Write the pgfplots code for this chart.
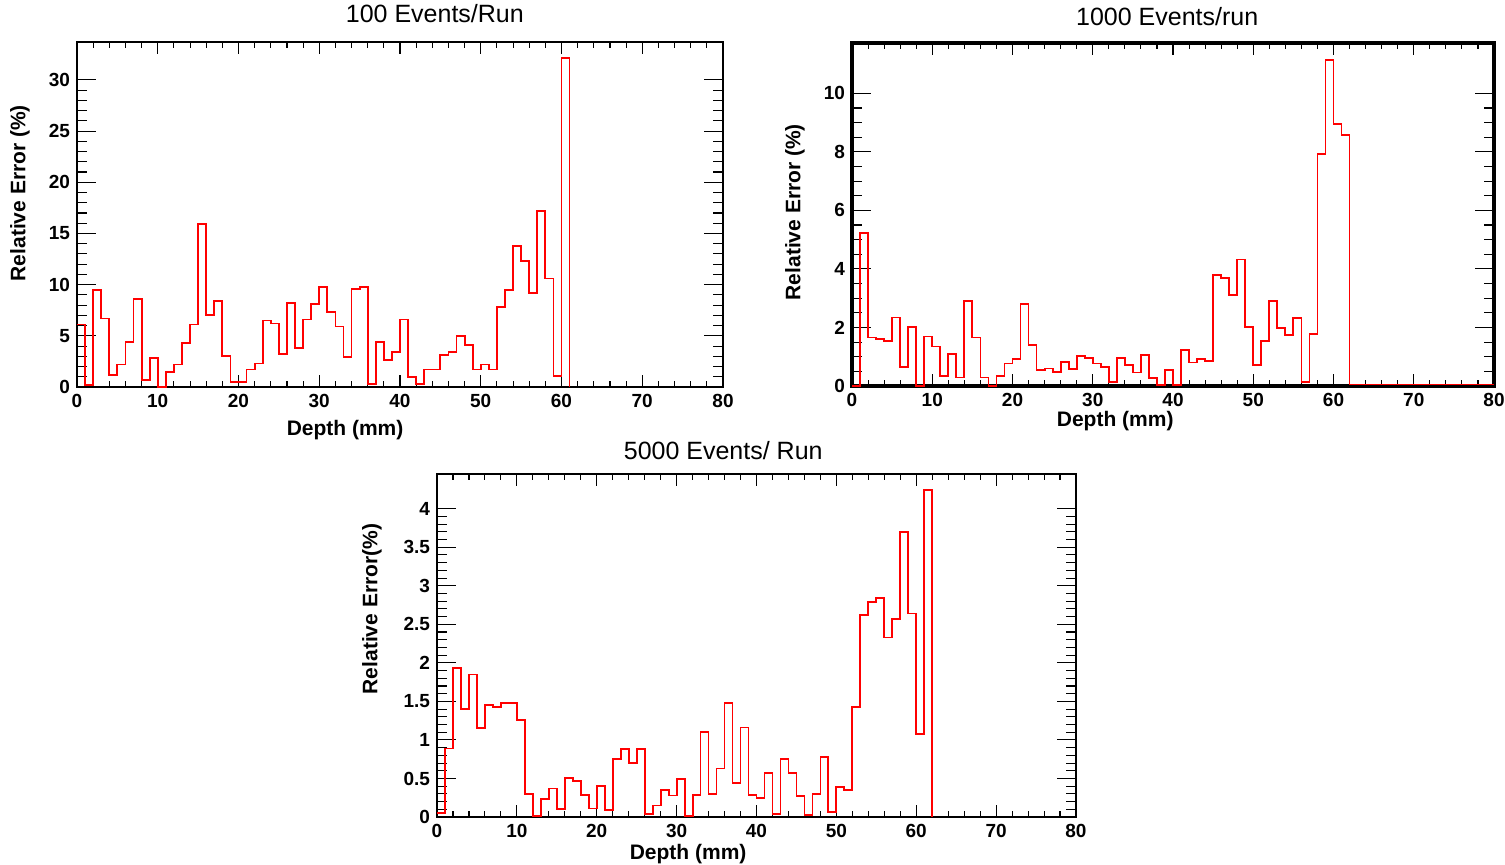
\documentclass[border=0pt]{standalone}
\usepackage{pgfplots}
\pgfplotsset{compat=1.18}
\usepackage{pgfplotstable}
\usepackage{fontspec}
\setmainfont{Liberation Sans}

\pgfplotstableread{
x y
0 6.1
1 0.2
2 9.5
3 6.7
4 1.15
5 2.2
6 4.4
7 8.6
8 0.65
9 2.8
10 0
11 1.5
12 2.2
13 4.3
14 6.1
15 15.9
16 7.0
17 8.4
18 3.0
19 0.5
20 0.5
21 1.7
22 2.3
23 6.5
24 6.2
25 3.2
26 8.2
27 3.8
28 6.6
29 8.1
30 9.8
31 7.3
32 5.9
33 2.95
34 9.6
35 9.8
36 0.26
37 4.4
38 2.6
39 3.4
40 6.6
41 1.0
42 0.26
43 1.7
44 1.7
45 3.1
46 3.4
47 5.0
48 4.1
49 1.7
50 2.2
51 1.7
52 7.8
53 9.5
54 13.8
55 12.3
56 9.2
57 17.2
58 10.6
59 1.05
60 32.1
61 0
}\dataA

\pgfplotstableread{
x y
0 0
1 5.22
2 1.66
3 1.6
4 1.54
5 2.34
6 0.65
7 2.02
8 0
9 1.69
10 1.35
11 0.34
12 1.09
13 0.29
14 2.91
15 1.66
16 0.29
17 0
18 0.34
19 0.77
20 0.91
21 2.8
22 1.4
23 0.54
24 0.6
25 0.49
26 0.82
27 0.59
28 1.03
29 0.97
30 0.77
31 0.65
32 0.15
33 0.97
34 0.72
35 0.46
36 1.06
37 0.26
38 0.04
39 0.55
40 0.04
41 1.22
42 0.8
43 0.91
44 0.86
45 3.79
46 3.68
47 3.11
48 4.32
49 2.02
50 0.72
51 1.54
52 2.91
53 1.98
54 1.75
55 2.32
56 0.15
57 1.79
58 7.92
59 11.14
60 8.95
61 8.59
62 0.05
80 0.05
}\dataB

\pgfplotstableread{
x y
0 0.05
1 0.89
2 1.93
3 1.40
4 1.85
5 1.15
6 1.45
7 1.43
8 1.48
9 1.48
10 1.26
11 0.30
12 0.01
13 0.23
14 0.37
15 0.10
16 0.51
17 0.47
18 0.29
19 0.11
20 0.40
21 0.09
22 0.75
23 0.88
24 0.70
25 0.88
26 0.04
27 0.15
28 0.35
29 0.28
30 0.49
31 0.01
32 0.29
33 1.10
34 0.30
35 0.63
36 1.48
37 0.44
38 1.16
39 0.29
40 0.25
41 0.57
42 0.04
43 0.75
44 0.57
45 0.27
46 0.03
47 0.30
48 0.78
49 0.07
50 0.39
51 0.35
52 1.43
53 2.62
54 2.79
55 2.84
56 2.33
57 2.57
58 3.70
59 2.64
60 1.08
61 4.24
62 0
}\dataC

\pgfplotsset{
  rootbase/.style={
    scale only axis, xmin=0, xmax=80, ymin=0,
    axis line style={black, line width=0.55pt},
    tick style={black, line width=0.55pt},
    /pgf/number format/assume math mode=true,
    tick label style={font=\fontsize{9.5}{11}\selectfont\bfseries, black},
    xtick pos=both, ytick pos=both, tick align=inside,
    clip=false,
  },
  xpart/.style={ytick=\empty, minor y tick num=0,
    xtick={0,10,...,80}, minor x tick num=4,
    major tick length=6pt, minor tick length=3pt,
    xlabel={Depth (mm)},
    xlabel style={font=\fontsize{10.5}{12}\selectfont\bfseries, anchor=center},
    title style={font=\fontsize{12.5}{14}\selectfont, anchor=center},
  },
  ypart/.style={xtick=\empty, minor x tick num=0,
    major tick length=9.5pt, minor tick length=5pt,
    ylabel style={font=\fontsize{10.5}{12}\selectfont\bfseries, anchor=center},
  },
  histo/.style={red, line width=0.9pt, const plot mark left, mark=none},
}

\begin{document}
\begin{tikzpicture}
\path[use as bounding box] (0,0) rectangle (752.5pt,432pt);

% ---------- Panel 1: 100 Events/Run ----------
\begin{axis}[rootbase, xpart, at={(38.5pt,238.5pt)}, anchor=south west,
  width=323pt, height=172.5pt, ymax=33.7,
  xlabel style={at={(axis description cs:0.415,-0.125)}},
  title={100 Events/Run}, title style={at={(axis description cs:0.554,1.049)}}]
\end{axis}
\begin{axis}[rootbase, ypart, at={(38.5pt,238.5pt)}, anchor=south west,
  width=323pt, height=172.5pt, ymax=33.7,
  ytick={0,5,10,15,20,25,30}, minor y tick num=4,
  ylabel={Relative Error (\%)},
  ylabel style={at={(axis description cs:-0.0882,0.562)}}]
\addplot[histo] table[x=x,y=y]{\dataA};
\end{axis}

% ---------- Panel 2: 1000 Events/run ----------
\begin{axis}[rootbase, xpart, at={(426pt,239pt)}, anchor=south west,
  width=321pt, height=171.5pt, ymax=11.72,
  axis line style={line width=1.7pt},
  xlabel style={at={(axis description cs:0.41,-0.102)}},
  title={1000 Events/run}, title style={at={(axis description cs:0.491,1.041)}}]
\end{axis}
\begin{axis}[rootbase, ypart, at={(426pt,239pt)}, anchor=south west,
  width=321pt, height=171.5pt, ymax=11.72,
  axis line style={line width=1.7pt},
  ytick={0,2,4,6,8,10}, minor y tick num=3,
  ylabel={Relative Error (\%)},
  ylabel style={at={(axis description cs:-0.0888,0.507)}}]
\addplot[histo] table[x=x,y=y]{\dataB};
\end{axis}

% ---------- Panel 3: 5000 Events/ Run ----------
\begin{axis}[rootbase, xpart, at={(218.5pt,23.5pt)}, anchor=south west,
  width=319.5pt, height=171.5pt, ymax=4.45,
  xlabel style={at={(axis description cs:0.393,-0.108)}},
  title={5000 Events/ Run}, title style={at={(axis description cs:0.448,1.032)}}]
\end{axis}
\begin{axis}[rootbase, ypart, at={(218.5pt,23.5pt)}, anchor=south west,
  width=319.5pt, height=171.5pt, ymax=4.45,
  ytick={0,0.5,1,1.5,2,2.5,3,3.5,4}, minor y tick num=4,
  ylabel={Relative Error(\%)},
  ylabel style={at={(axis description cs:-0.1017,0.606)}}]
\addplot[histo] table[x=x,y=y]{\dataC};
\end{axis}
\end{tikzpicture}
\end{document}
